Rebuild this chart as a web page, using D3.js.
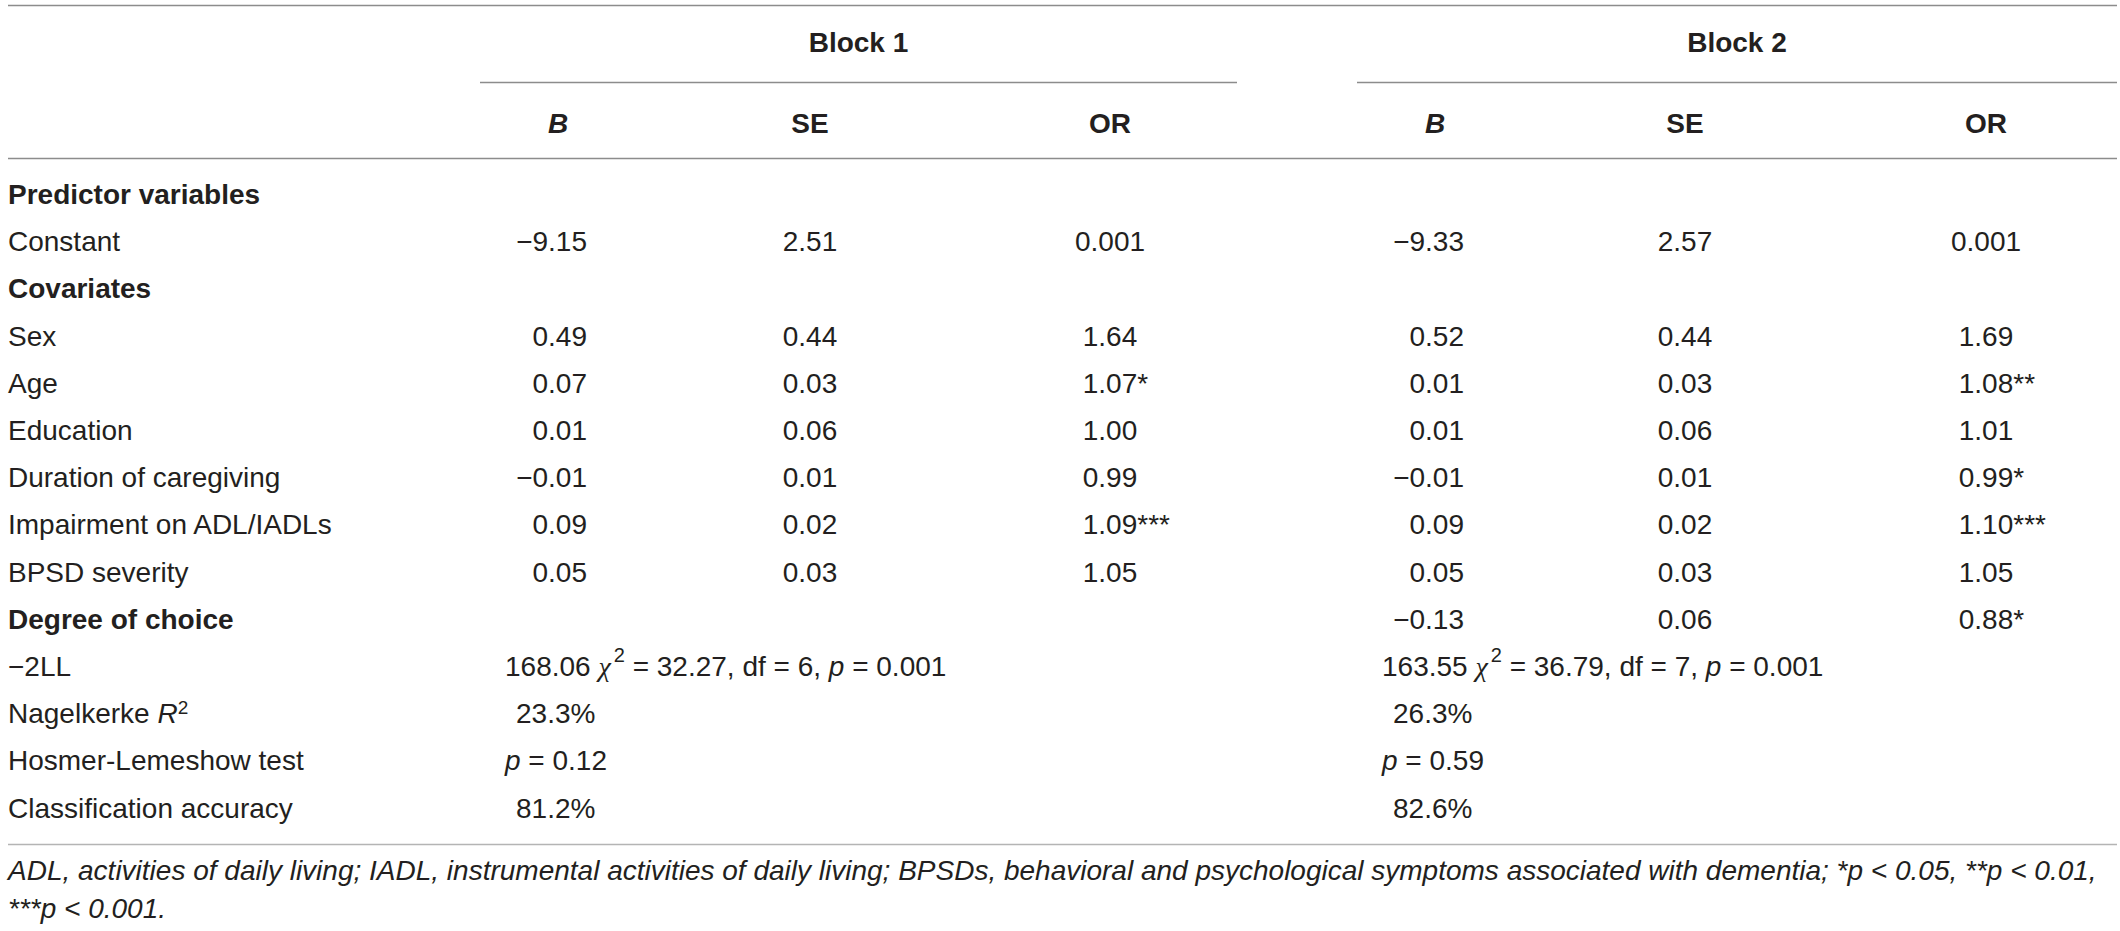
<!DOCTYPE html>
<html>
<head>
<meta charset="utf-8">
<script src="https://cdn.jsdelivr.net/npm/d3@7"></script>
<style>
	body { margin: 0; background: #fff; }
	text { font-family: 'Liberation Sans', Arial, Helvetica, sans-serif; fill: #231f20; }
</style>
</head>
<body>
<div id="chart"></div>
<script>
// table content
var rowLabels = ['Predictor variables', 'Constant', 'Covariates', 'Sex', 'Age', 'Education',
	'Duration of caregiving', 'Impairment on ADL/IADLs', 'BPSD severity', 'Degree of choice',
	'\u22122LL', 'Nagelkerke', 'Hosmer-Lemeshow test', 'Classification accuracy'];
var sectionRows = ['Predictor variables', 'Covariates', 'Degree of choice'];
var blocks = ['Block 1', 'Block 2'];
var colHeads = ['B', 'SE', 'OR'];

var block1B  = ['', '\u22129.15', '', '0.49', '0.07', '0.01', '\u22120.01', '0.09', '0.05', ''];
var block1SE = ['', '2.51', '', '0.44', '0.03', '0.06', '0.01', '0.02', '0.03', ''];
var block1OR = ['', '0.001', '', '1.64', '1.07*', '1.00', '0.99', '1.09***', '1.05', ''];
var block2B  = ['', '\u22129.33', '', '0.52', '0.01', '0.01', '\u22120.01', '0.09', '0.05', '\u22120.13'];
var block2SE = ['', '2.57', '', '0.44', '0.03', '0.06', '0.01', '0.02', '0.03', '0.06'];
var block2OR = ['', '0.001', '', '1.69', '1.08**', '1.01', '0.99*', '1.10***', '1.05', '0.88*'];

var minus2LL = ['168.06', '163.55'];
var chiSquare = ['32.27', '36.79'];
var chiDf = ['6', '7'];
var chiP = ['0.001', '0.001'];
var nagelkerke = ['23.3%', '26.3%'];
var hosmerP = ['0.12', '0.59'];
var accuracy = ['81.2%', '82.6%'];

var footnote = ['ADL, activities of daily living; IADL, instrumental activities of daily living; BPSDs, behavioral and psychological symptoms associated with dementia; *p < 0.05, **p < 0.01,',
	'***p < 0.001.'];

// layout
var width = 2120, height = 931;
var fs = 28, lineLeft = 8, lineRight = 2117;
var lineColor = '#8c8c8c';

var svg = d3.select('#chart').append('svg')
	.attr('width', width)
	.attr('height', height);
svg.append('rect').attr('width', width).attr('height', height).attr('fill', '#fff');

var y = d3.scaleLinear()
	.domain([0, rowLabels.length - 1])
	.range([204, 204 + 13 * 47.2]);

var colKeys = ['b1B', 'b1SE', 'b1OR', 'b2B', 'b2SE', 'b2OR'];
var colX = d3.scaleOrdinal()
	.domain(colKeys)
	.range([558, 810, 1110, 1435, 1685, 1986]);
var blockSpan = [[480, 1237], [1357, lineRight]];
var statX = [505, 1382];

// rules
function hline(x1, x2, yy, color) {
	svg.append('line')
		.attr('x1', x1).attr('x2', x2)
		.attr('y1', yy).attr('y2', yy)
		.attr('stroke', color || lineColor)
		.attr('stroke-width', 1.3);
}
hline(lineLeft, lineRight, 5.5);
hline(lineLeft, lineRight, 158.5);
hline(lineLeft, lineRight, 844.5, '#b4b4b4');
blockSpan.forEach(function(s) { hline(s[0], s[1], 82.5); });

// header
svg.selectAll('.blockhead')
	.data(blocks)
	.enter().append('text')
	.attr('class', 'blockhead')
	.attr('x', function(d, i) { return (blockSpan[i][0] + blockSpan[i][1]) / 2; })
	.attr('y', 52)
	.attr('text-anchor', 'middle')
	.attr('font-size', fs)
	.attr('font-weight', 'bold')
	.text(function(d) { return d; });

svg.selectAll('.colhead')
	.data(colKeys)
	.enter().append('text')
	.attr('class', 'colhead')
	.attr('x', function(d) { return colX(d); })
	.attr('y', 133)
	.attr('text-anchor', 'middle')
	.attr('font-size', fs)
	.attr('font-weight', 'bold')
	.attr('font-style', function(d, i) { return colHeads[i % 3] == 'B' ? 'italic' : 'normal'; })
	.text(function(d, i) { return colHeads[i % 3]; });

// row labels
var labels = svg.selectAll('.rowlabel')
	.data(rowLabels)
	.enter().append('text')
	.attr('class', 'rowlabel')
	.attr('x', lineLeft)
	.attr('y', function(d, i) { return y(i); })
	.attr('font-size', fs)
	.attr('font-weight', function(d) { return sectionRows.indexOf(d) != -1 ? 'bold' : 'normal'; })
	.text(function(d) { return d; });

// Nagelkerke R squared
var nag = labels.filter(function(d) { return d == 'Nagelkerke'; });
nag.append('tspan').attr('font-style', 'italic').text(' R');
nag.append('tspan').attr('font-size', 19).attr('dy', -9).text('2');

// value cells
var columns = [block1B, block1SE, block1OR, block2B, block2SE, block2OR];
columns.forEach(function(col, ci) {
	var key = colKeys[ci];
	var isB = ci % 3 == 0;
	col.forEach(function(v, ri) {
		if(!v) return;
		var num = v.replace(/\*+$/, ''), stars = v.slice(num.length);
		var t = svg.append('text')
			.attr('x', isB ? colX(key) + 29 : colX(key))
			.attr('y', y(ri))
			.attr('text-anchor', isB ? 'end' : 'middle')
			.attr('font-size', fs)
			.text(num);
		if(stars) {
			var bb = t.node().getBBox();
			svg.append('text')
				.attr('x', bb.x + bb.width)
				.attr('y', y(ri))
				.attr('font-size', fs)
				.text(stars);
		}
	});
});

// model fit rows
blocks.forEach(function(b, bi) {
	var t = svg.append('text')
		.attr('x', statX[bi])
		.attr('y', y(10))
		.attr('font-size', fs);
	t.append('tspan').text(minus2LL[bi] + ' ');
	t.append('tspan').attr('font-family', 'Liberation Serif, serif').attr('font-style', 'italic').text('\u03c7');
	t.append('tspan').attr('font-size', 20).attr('dy', -14).attr('dx', 3).text('2');
	t.append('tspan').attr('dy', 14).text(' = ' + chiSquare[bi] + ', df = ' + chiDf[bi] + ', ');
	t.append('tspan').attr('font-style', 'italic').text('p');
	t.append('tspan').text(' = ' + chiP[bi]);

	svg.append('text')
		.attr('x', statX[bi] + 11)
		.attr('y', y(11))
		.attr('font-size', fs)
		.text(nagelkerke[bi]);

	var h = svg.append('text')
		.attr('x', statX[bi])
		.attr('y', y(12))
		.attr('font-size', fs);
	h.append('tspan').attr('font-style', 'italic').text('p');
	h.append('tspan').text(' = ' + hosmerP[bi]);

	svg.append('text')
		.attr('x', statX[bi] + 11)
		.attr('y', y(13))
		.attr('font-size', fs)
		.text(accuracy[bi]);
});

// footnote
svg.selectAll('.footnote')
	.data(footnote)
	.enter().append('text')
	.attr('class', 'footnote')
	.attr('x', lineLeft)
	.attr('y', function(d, i) { return 880 + i * 38; })
	.attr('font-size', 28)
	.attr('font-style', 'italic')
	.text(function(d) { return d; });
</script>
</body>
</html>
